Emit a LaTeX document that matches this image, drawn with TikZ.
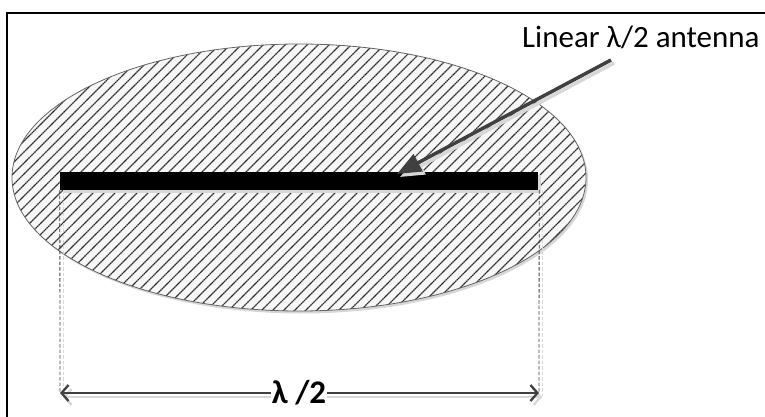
\documentclass[tikz,border=0pt]{standalone}
\usepackage{fontspec}
\setmainfont{Carlito}
\usetikzlibrary{arrows.meta,shapes.geometric}
\definecolor{darkg}{RGB}{64,64,64}
\definecolor{hatchg}{RGB}{45,45,45}
\definecolor{shadowg}{RGB}{215,215,215}
\definecolor{fillg}{RGB}{247,247,247}
\definecolor{rimg}{RGB}{100,100,100}
\tikzset{
  lobe/.style={ellipse, minimum width=574pt, minimum height=267pt, inner sep=0pt},
  barbox/.style={rectangle, minimum width=478pt, minimum height=18pt, inner sep=0pt, fill=black},
  hatchline/.style={hatchg, line width=1.1pt, dash pattern=on 1.6pt off 0.5pt},
  dimline/.style={darkg, line width=2.3pt, {Straight Barb[length=7pt,width=16pt]}-{Straight Barb[length=7pt,width=16pt]}},
  extline/.style={darkg, line width=0.8pt, dash pattern=on 3.5pt off 2pt},
  pointer/.style={darkg, line width=3.5pt, -{Triangle[length=24pt,width=19pt]}},
  shadowpointer/.style={shadowg, line width=3.5pt, -{Triangle[length=24pt,width=19pt]}},
}
\begin{document}
\begin{tikzpicture}[x=1pt,y=-1pt]
\useasboundingbox (0,0) rectangle (765,417);
% frame
\draw[black, line width=2.5pt] (7,430) -- (7,13) -- (780,13);
% ellipse shadow
\node[lobe, fill=shadowg] (lobeshadow) at (301,180) {};
% ellipse
\node[lobe, fill=fillg] (lobe) at (299,177.5) {};
\begin{scope}
  \clip (299,177.5) ellipse [x radius=287, y radius=133.5];
  \foreach \c in {0,11,...,950} {
    \draw[hatchline] (\c,0) -- ++(-500,500);
  }
\end{scope}
\draw[rimg, line width=0.8pt] (299,177.5) ellipse [x radius=287, y radius=133.5];
% bar shadow
\node[barbox, fill=shadowg] (barshadow) at (302,184) {};
% bar
\node[barbox] (bar) at (299,181) {};
% extension lines
\coordinate (dl) at (60,393);
\coordinate (dr) at (539,393);
\draw[shadowg, line width=0.7pt, dash pattern=on 3.5pt off 2pt] (63,190) -- (63,396);
\draw[shadowg, line width=0.7pt, dash pattern=on 3.5pt off 2pt] (542,190) -- (542,396);
\draw[extline] (bar.south west) -- (dl);
\draw[extline] ([xshift=1pt]bar.south east) -- (dr);
% dimension line
\draw[shadowg, line width=2.3pt, {Straight Barb[length=7pt,width=16pt]}-{Straight Barb[length=7pt,width=16pt]}] (63,397) -- (542,397);
\draw[dimline] (dl) -- (dr);
\node[anchor=base, fill=white, inner sep=1pt, font=\fontsize{33}{38}\selectfont\bfseries] (dimlabel) at (299,403) {λ /2};
% pointer label
\node[anchor=base west, inner sep=0pt, font=\fontsize{31}{36}\selectfont] (antlabel) at (522,48) {Linear λ/2 antenna};
\coordinate (pstart) at (611,60);
\coordinate (ptip) at (397,174);
\draw[shadowpointer] (614,63) -- (400,177);
\draw[pointer] (pstart) -- (ptip);
\end{tikzpicture}
\end{document}
